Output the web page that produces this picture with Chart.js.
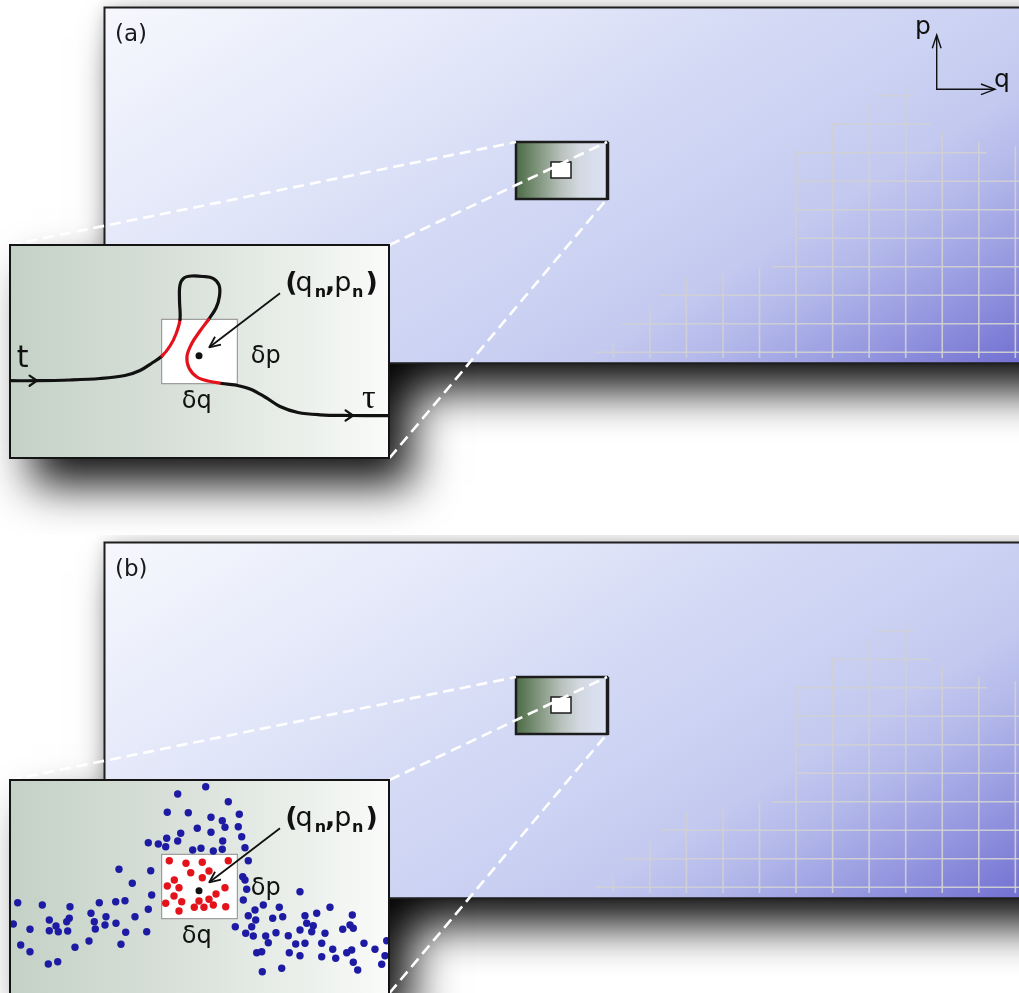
<!DOCTYPE html>
<html lang="en">
<head>
<meta charset="utf-8">
<title>Phase-space cell: trajectory and ensemble</title>
<script src="https://cdn.jsdelivr.net/npm/chart.js@4.4.1/dist/chart.umd.min.js"></script>
<style>
  html, body { margin: 0; padding: 0; background: #fff; }
  #stage { position: relative; width: 1019px; height: 993px; overflow: hidden; background: #fff; }
  #stage canvas { position: absolute; }
</style>
</head>
<body>
<div id="stage">
  <canvas id="frameA" width="1019" height="535" style="left:0;top:0"></canvas>
  <canvas id="insetA" width="381" height="215" style="left:9px;top:244px"></canvas>
  <canvas id="frameB" width="1019" height="458" style="left:0;top:535px"></canvas>
  <canvas id="insetB" width="381" height="225" style="left:9px;top:779px"></canvas>
</div>
<script>
// ---------------- data ----------------
const panelTags = ['(a)', '(b)'];

// coarse-graining grid of the phase plane (cell units q, p)
const gridColumnQ   = [0, 1, 2, 3, 4, 5, 6, 7, 8, 9, 10, 11];
const gridColumnTop = [0.37, 1.62, 2.64, 2.75, 3.0, 7.1, 8.05, 8.75, 9.34, 7.74, 7.38, 7.24];
const gridColumnBase = -0.2;
const gridRowP    = [0, 1, 2, 3, 4, 5, 6, 7, 8, 9];
const gridRowFrom = [-0.5, 0.23, 1.25, 4.34, 5.0, 5.0, 5.0, 5.0, 5.98, 7.21];
const gridRowTo   = [12, 12, 12, 12, 12, 12, 12, 10.22, 8.71, 8.21];

// single trajectory from t to tau crossing the cell (zoomed plane, q, p)
const trajQ = [0, 2.7, 6.0, 9.0, 11.5, 13.0, 14.2, 15.2, 16.0, 16.6, 17.0, 16.95, 17.0, 17.4, 18.2, 19.3,
               20.3, 20.9, 20.95, 20.6, 19.85, 19.0, 18.2, 17.7, 17.9, 18.7, 19.8, 21.2, 22.5, 24.0, 25.5,
               27.0, 28.8, 31.0, 34.0, 37.0, 38.0];
const trajP = [7.73, 7.73, 7.8, 7.95, 8.25, 8.75, 9.5, 10.2, 11.2, 12.4, 13.85, 15.8, 17.3, 18.0, 18.2, 18.15,
               17.97, 17.3, 16.2, 15.0, 13.85, 12.7, 11.5, 10.2, 9.0, 8.1, 7.7, 7.45, 7.3, 6.9, 6.1,
               5.15, 4.55, 4.32, 4.25, 4.23, 4.23];
const flowArrowQ = [2.7, 34.3];
const flowArrowP = [7.73, 4.25];

// the cell dq x dp around (q_n, p_n)
const cellBoxQ = [15.17, 22.73];
const cellBoxP = [7.43, 13.87];
const cellCenterQ = [18.9];
const cellCenterP = [10.23];

// ensemble of phase points outside / inside the cell
const ensembleQ = [19.57,16.77,21.83,15.73,17.83,22.93,20.1,21.23,18.73,20.1,
  21.5,22.83,17.07,15.67,16.77,13.83,14.83,15.57,21.27,23.17,
  18.27,19.1,20.33,21.23,23.5,23.83,10.9,14.07,12.23,23.27,
  23.5,23.67,14.17,0.77,3.23,6.0,8.93,10.57,11.5,13.83,
  23.33,25.33,26.93,29.0,32.0,24.5,23.83,26.27,27.27,29.5,
  30.67,34.23,0.33,2.0,3.93,4.6,3.93,4.83,5.77,5.93,
  5.67,8.1,8.43,8.53,9.6,9.5,10.6,11.57,12.5,13.67,
  7.9,6.5,11.1,1.07,2.0,3.83,4.77,22.53,24.17,24.57,
  23.57,24.33,25.57,26.6,27.83,29.0,29.67,30.33,30.17,31.5,
  33.27,34.0,34.33,28.57,29.5,31.17,32.27,33.67,34.17,35.4,
  36.5,37.67,37.5,37.17,25.83,24.67,25.17,27.93,29.0,31.17,
  32.57,34.33,34.77,25.23,27.17];
const ensembleP = [20.63,19.9,19.13,18.07,18.03,17.87,17.57,17.23,16.47,16.07,
  16.57,16.63,15.97,15.47,15.2,15.03,14.9,14.63,15.2,15.63,
  14.3,14.47,14.2,14.37,14.53,13.23,12.37,12.23,10.97,11.63,
  11.3,10.37,9.8,9.03,8.8,8.63,9.03,9.13,9.23,8.37,
  9.3,8.8,8.57,10.13,8.57,8.3,7.73,7.47,7.63,7.73,
  7.97,7.8,6.9,6.37,7.3,6.7,6.23,6.13,6.2,7.47,
  7.13,7.97,7.13,6.4,7.63,6.8,6.97,6.07,7.63,6.13,
  5.2,4.57,4.87,4.8,4.13,2.9,3.13,6.63,6.63,7.3,
  5.97,5.7,5.7,6.03,5.73,6.3,6.97,6.73,6.13,5.97,
  6.37,6.8,6.47,4.9,4.97,4.97,4.37,4.03,4.3,4.97,
  4.37,5.23,3.73,2.87,5.03,4.03,4.13,4.03,3.73,3.63,
  3.47,3.07,2.3,2.13,2.47];
const cellEnsembleQ = [15.93,17.6,19.23,21.83,18.07,19.9,19.23,16.43,15.73,16.9,21.5,
  16.4,20.6,17.17,15.57,18.9,19.9,16.9,18.43,19.4,20.33,21.57];
const cellEnsembleP = [13.23,12.97,13.07,13.23,12.03,12.2,11.53,11.3,10.7,10.53,10.53,
  9.7,9.9,9.13,8.97,9.2,9.37,8.2,8.57,8.57,8.8,8.63];

// ---------------- styling ----------------
const INK = '#111111';
const RED = '#e3121b';
const BLUE = '#1d1aa3';
const SANS = '"DejaVu Sans", "Liberation Sans", Arial, sans-serif';
const SERIF = '"Liberation Serif", "DejaVu Serif", serif';

// layout of one panel (pixels, relative to the panel canvas)
const FRAME = { x: 104.5, y: 7.5, w: 1000, h: 355.8 };
const LENS = { x: 516, y: 142, w: 91, h: 57 };
const LENS_SQ = { x: 551, y: 162, w: 20, h: 16 };
const INSET = { x: 10, y: 245, w: 379.5, h: 213 };

function shadowRect(ctx, r, color, blur, dx, dy) {
  ctx.save();
  ctx.shadowColor = color;
  ctx.shadowBlur = blur;
  ctx.shadowOffsetX = dx;
  ctx.shadowOffsetY = dy;
  ctx.fillStyle = '#fff';
  ctx.fillRect(r.x, r.y, r.w, r.h);
  ctx.restore();
}

function chevron(ctx, x, y, ang, len, spread) {
  ctx.beginPath();
  ctx.moveTo(x - len * Math.cos(ang - spread), y - len * Math.sin(ang - spread));
  ctx.lineTo(x, y);
  ctx.lineTo(x - len * Math.cos(ang + spread), y - len * Math.sin(ang + spread));
  ctx.stroke();
}

// ---------------- main phase-plane panel ----------------
function framePlugin(tag, withAxes) {
  return {
    id: 'phaseFrame',
    beforeDraw(chart) {
      const ctx = chart.ctx, xs = chart.scales.x, ys = chart.scales.y;
      const F = FRAME, L = LENS, S = LENS_SQ, I = INSET;
      ctx.save();
      ctx.fillStyle = '#fff';
      ctx.fillRect(0, 0, chart.width, chart.height);

      // halo and cast shadows
      shadowRect(ctx, F, 'rgba(0,0,0,0.22)', 16, 0, 0);
      shadowRect(ctx, F, 'rgba(0,0,0,0.93)', 42, 20, 28);
      shadowRect(ctx, I, 'rgba(0,0,0,0.93)', 42, 22, 27);

      // plane face
      const g = ctx.createLinearGradient(1019, 363, 608, -295);
      g.addColorStop(0.00, '#7270d2');
      g.addColorStop(0.12, '#9799e0');
      g.addColorStop(0.22, '#b3b8ea');
      g.addColorStop(0.30, '#c3c9ef');
      g.addColorStop(0.42, '#ccd3f3');
      g.addColorStop(0.56, '#d5dbf5');
      g.addColorStop(0.72, '#e2e7f9');
      g.addColorStop(1.00, '#f6f7fd');
      ctx.fillStyle = g;
      ctx.fillRect(F.x, F.y, F.w, F.h);

      // coarse-graining grid
      ctx.save();
      ctx.beginPath();
      ctx.rect(F.x, F.y, F.w, F.h);
      ctx.clip();
      ctx.strokeStyle = 'rgba(208,208,212,0.95)';
      ctx.lineWidth = 1.6;
      gridColumnQ.forEach((q, i) => {
        const x = xs.getPixelForValue(q);
        ctx.beginPath();
        ctx.moveTo(x, ys.getPixelForValue(gridColumnBase));
        ctx.lineTo(x, ys.getPixelForValue(gridColumnTop[i]));
        ctx.stroke();
      });
      gridRowP.forEach((p, j) => {
        const y = ys.getPixelForValue(p);
        ctx.beginPath();
        ctx.moveTo(xs.getPixelForValue(gridRowFrom[j]), y);
        ctx.lineTo(xs.getPixelForValue(gridRowTo[j]), y);
        ctx.stroke();
      });
      ctx.restore();

      // plane edges
      ctx.strokeStyle = '#1e1e1e';
      ctx.lineWidth = 2;
      ctx.beginPath();
      ctx.moveTo(F.x + F.w, F.y);
      ctx.lineTo(F.x, F.y);
      ctx.lineTo(F.x, F.y + F.h);
      ctx.lineTo(F.x + F.w, F.y + F.h);
      ctx.stroke();

      // magnified region
      const lg = ctx.createLinearGradient(L.x, 0, L.x + L.w, 0);
      lg.addColorStop(0.00, '#4b6b45');
      lg.addColorStop(0.30, '#8d9f8b');
      lg.addColorStop(0.50, '#b9c2bd');
      lg.addColorStop(0.70, '#d3d9e1');
      lg.addColorStop(1.00, '#dde2f5');
      ctx.fillStyle = lg;
      ctx.fillRect(L.x, L.y, L.w, L.h);
      ctx.strokeStyle = '#1c1c1c';
      ctx.lineWidth = 2.5;
      ctx.strokeRect(L.x, L.y, L.w, L.h);
      ctx.beginPath();
      ctx.moveTo(L.x + L.w + 1, L.y);
      ctx.lineTo(L.x + L.w + 1, L.y + L.h + 1);
      ctx.stroke();
      ctx.fillStyle = '#fff';
      ctx.fillRect(S.x, S.y, S.w, S.h);
      ctx.lineWidth = 1.5;
      ctx.strokeRect(S.x, S.y, S.w, S.h);

      // zoom guide lines
      ctx.save();
      ctx.setLineDash([11, 6]);
      ctx.strokeStyle = '#ffffff';
      ctx.lineWidth = 2.6;
      [[I.x, I.y, L.x, L.y],
       [I.x + I.w, I.y, L.x + L.w, L.y],
       [I.x + I.w, I.y + I.h, L.x + L.w, L.y + L.h]].forEach(s => {
        ctx.beginPath();
        ctx.moveTo(s[0], s[1]);
        ctx.lineTo(s[2], s[3]);
        ctx.stroke();
      });
      ctx.restore();

      // panel tag
      ctx.fillStyle = '#1a1a1a';
      ctx.font = '23px ' + SANS;
      ctx.textAlign = 'left';
      ctx.textBaseline = 'alphabetic';
      ctx.fillText(tag, 115, 40.5);

      // q, p orientation
      if (withAxes) {
        ctx.strokeStyle = INK;
        ctx.lineWidth = 1.4;
        ctx.beginPath();
        ctx.moveTo(936.7, 35);
        ctx.lineTo(936.7, 89.3);
        ctx.lineTo(995, 89.3);
        ctx.stroke();
        chevron(ctx, 936.7, 35, -Math.PI / 2, 14, 0.32);
        chevron(ctx, 995, 89.3, 0, 15, 0.36);
        ctx.fillStyle = INK;
        ctx.font = '25px ' + SANS;
        ctx.fillText('p', 915, 34);
        ctx.fillText('q', 994, 87);
      }
      ctx.restore();
    }
  };
}

function makeFrame(id, tag, withAxes) {
  const cv = document.getElementById(id);
  const H = cv.height;
  return new Chart(cv, {
    type: 'scatter',
    data: { datasets: [] },
    options: {
      responsive: false, animation: false, devicePixelRatio: 1, events: [],
      layout: { padding: 0, autoPadding: false },
      plugins: { legend: { display: false }, tooltip: { enabled: false } },
      scales: {
        x: { type: 'linear', display: false, min: -613.3 / 36.55, max: (1019 - 613.3) / 36.55 },
        y: { type: 'linear', display: false, min: (352.3 - H) / 28.5, max: 352.3 / 28.5 }
      }
    },
    plugins: [framePlugin(tag, withAxes)]
  });
}

// ---------------- magnified inset ----------------
function insetPlugin(withFlow, dpLift) {
  return {
    id: 'insetDecor',
    beforeDraw(chart) {
      const ctx = chart.ctx;
      const g = ctx.createLinearGradient(0, 0, chart.width, 0);
      g.addColorStop(0.00, '#c4d1c6');
      g.addColorStop(0.45, '#d9e1da');
      g.addColorStop(0.80, '#edf1ed');
      g.addColorStop(1.00, '#fafbfa');
      ctx.save();
      ctx.fillStyle = g;
      ctx.fillRect(0, 0, chart.width, chart.height);
      ctx.restore();
    },
    beforeDatasetsDraw(chart) {
      const ctx = chart.ctx, xs = chart.scales.x, ys = chart.scales.y;
      const x0 = xs.getPixelForValue(cellBoxQ[0]), x1 = xs.getPixelForValue(cellBoxQ[1]);
      const y0 = ys.getPixelForValue(cellBoxP[1]), y1 = ys.getPixelForValue(cellBoxP[0]);
      ctx.save();
      ctx.fillStyle = '#ffffff';
      ctx.fillRect(x0, y0, x1 - x0, y1 - y0);
      ctx.strokeStyle = '#8a8a8a';
      ctx.lineWidth = 1;
      ctx.strokeRect(x0, y0, x1 - x0, y1 - y0);
      ctx.restore();
    },
    afterDatasetsDraw(chart) {
      const ctx = chart.ctx, xs = chart.scales.x, ys = chart.scales.y;
      const X = q => xs.getPixelForValue(q), Y = p => ys.getPixelForValue(p);
      ctx.save();
      ctx.strokeStyle = INK;
      ctx.fillStyle = INK;
      ctx.lineCap = 'round';
      ctx.lineJoin = 'round';

      if (withFlow) {
        ctx.lineWidth = 2.2;
        flowArrowQ.forEach((q, i) => chevron(ctx, X(q), Y(flowArrowP[i]), 0, 9, 0.6));
        ctx.font = '30px ' + SANS;
        ctx.fillText('t', X(0.67), Y(9.1));
        ctx.font = '34px ' + SERIF;
        ctx.fillText('\u03C4', X(35.2), Y(5.0));
      }

      // pointer to the cell centre
      const ax0 = X(27.0), ay0 = Y(16.47), ax1 = X(19.93), ay1 = Y(11.07);
      ctx.lineWidth = 1.8;
      ctx.lineCap = 'butt';
      ctx.beginPath();
      ctx.moveTo(ax0, ay0);
      ctx.lineTo(ax1, ay1);
      ctx.stroke();
      chevron(ctx, ax1, ay1, Math.atan2(ay1 - ay0, ax1 - ax0), 12, 0.42);

      // labels
      ctx.textAlign = 'left';
      ctx.textBaseline = 'alphabetic';
      ctx.font = '24px ' + SANS;
      ctx.fillText('\u03B4p', X(24.07), Y(9.48 + dpLift));
      ctx.fillText('\u03B4q', X(17.17), Y(4.98));

      const bx = X(27.52), by = Y(16.7);
      [['(', 'bold 27px ', 0, 0], ['q', '27px ', 10.3, 0], ['n', 'bold 16px ', 29.5, 5.5],
       [',', 'bold 27px ', 39.8, 0], ['p', '27px ', 49, 0], ['n', 'bold 16px ', 66.8, 5.5],
       [')', 'bold 27px ', 80.3, 0]].forEach(s => {
        ctx.font = s[1] + SANS;
        ctx.fillText(s[0], bx + s[2], by + s[3]);
      });
      ctx.restore();
    },
    afterDraw(chart) {
      const ctx = chart.ctx;
      ctx.save();
      ctx.strokeStyle = '#141414';
      ctx.lineWidth = 2;
      ctx.strokeRect(1, 1, chart.width - 2, chart.height - 2);
      ctx.restore();
    }
  };
}

function pts(qs, ps) { return qs.map((q, i) => ({ x: q, y: ps[i] })); }

function segInCell(i) {
  const q = (trajQ[i] + trajQ[i + 1]) / 2, p = (trajP[i] + trajP[i + 1]) / 2;
  return q >= cellBoxQ[0] && q <= cellBoxQ[1] && p >= cellBoxP[0] && p <= cellBoxP[1];
}

function makeInset(id, datasets, withFlow, dpLift) {
  const cv = document.getElementById(id);
  const W = cv.width, H = cv.height;
  const pTop = 21.4;
  return new Chart(cv, {
    type: 'scatter',
    data: { datasets },
    options: {
      responsive: false, animation: false, devicePixelRatio: 1, events: [],
      layout: { padding: 0, autoPadding: false },
      plugins: { legend: { display: false }, tooltip: { enabled: false } },
      scales: {
        x: { type: 'linear', display: false, min: -0.1, max: -0.1 + W / 10 },
        y: { type: 'linear', display: false, min: pTop - H / 10, max: pTop }
      }
    },
    plugins: [insetPlugin(withFlow, dpLift)]
  });
}

function centreDot() {
  return {
    data: pts(cellCenterQ, cellCenterP),
    pointRadius: 3.5, pointBackgroundColor: INK, pointBorderWidth: 0, borderWidth: 0
  };
}

makeFrame('frameA', panelTags[0], true);
makeInset('insetA', [
  {
    data: pts(trajQ, trajP),
    showLine: true, pointRadius: 0, borderWidth: 3.2, tension: 0.35,
    borderColor: INK, borderCapStyle: 'round', borderJoinStyle: 'round',
    segment: { borderColor: c => segInCell(c.p0DataIndex) ? RED : INK }
  },
  centreDot()
], true, 0);

makeFrame('frameB', panelTags[1], false);
makeInset('insetB', [
  {
    data: pts(ensembleQ, ensembleP),
    pointRadius: 3.7, pointBackgroundColor: BLUE, pointBorderWidth: 0, borderWidth: 0
  },
  {
    data: pts(cellEnsembleQ, cellEnsembleP),
    pointRadius: 3.7, pointBackgroundColor: RED, pointBorderWidth: 0, borderWidth: 0
  },
  centreDot()
], false, 0.3);
</script>
</body>
</html>
